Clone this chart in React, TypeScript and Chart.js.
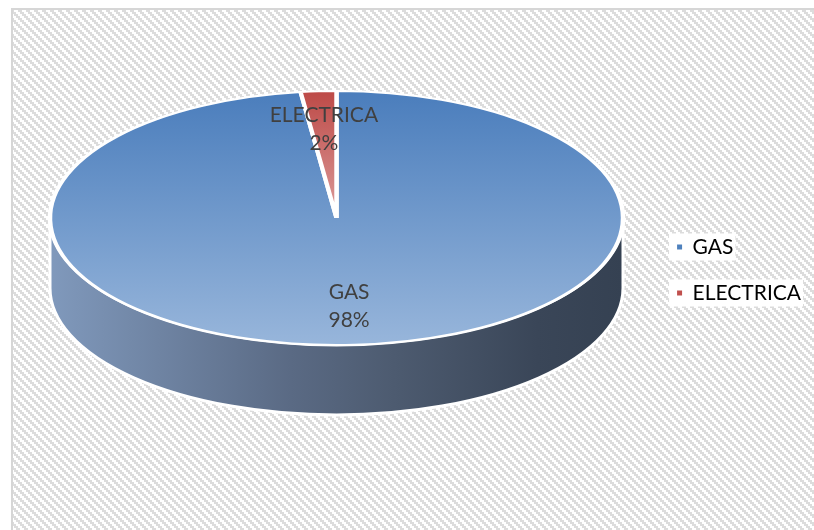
import React, { useEffect, useRef } from 'react';
import { Chart, registerables } from 'chart.js';

Chart.register(...registerables);

// ---- data ----
const categories = ['GAS', 'ELECTRICA'];
const values = [98, 2];
const legendColors = ['#4f81bd', '#c0504d'];

// ---- layout / style constants ----
const W = 814;
const H = 530;
const FRAME_L = 11;
const FRAME_T = 8;
const EX = 336.5; // ellipse center x
const EY = 218; // ellipse center y
const RX = 286.5; // ellipse radius x
const RY = 127; // ellipse radius y
const DEPTH = 70; // side wall height
const LABEL_R = 0.7;
const LABEL_FONT = '21px Lato';
const LINE_GAP = 14;

const topStops: [number, string][][] = [
  [
    [0, '#4a7dbc'],
    [1, '#98b6db'],
  ],
  [
    [0, '#bd4946'],
    [0.5, '#dc9c9b'],
    [1, '#efd0d0'],
  ],
];

const sideStops: [number, string][] = [
  [0, '#8099bc'],
  [0.42, '#5a6a84'],
  [0.6, '#4d5b70'],
  [0.85, '#3a4658'],
  [1, '#354152'],
];

function makeHatch(ctx: CanvasRenderingContext2D) {
  const c = document.createElement('canvas');
  c.width = 8;
  c.height = 8;
  const p = c.getContext('2d')!;
  p.fillStyle = '#ffffff';
  p.fillRect(0, 0, 8, 8);
  p.fillStyle = '#dcdcdc';
  for (let y = 0; y < 8; y++) {
    for (let x = 0; x < 8; x++) {
      const k = (((Math.floor(x / 2) - Math.floor(y / 2)) % 4) + 4) % 4;
      if (k < 2) p.fillRect(x, y, 1, 1);
    }
  }
  return ctx.createPattern(c, 'repeat');
}

const bgPlugin = {
  id: 'bgHatch',
  beforeDraw(chart: any) {
    const { ctx, width, height } = chart;
    ctx.save();
    ctx.fillStyle = '#ffffff';
    ctx.fillRect(0, 0, width, height);
    ctx.fillStyle = makeHatch(ctx);
    ctx.fillRect(FRAME_L, FRAME_T, width - FRAME_L, height - FRAME_T);
    ctx.fillStyle = '#d6d6d6';
    ctx.fillRect(FRAME_L, FRAME_T, 2, height - FRAME_T);
    ctx.fillRect(FRAME_L, FRAME_T, width - FRAME_L, 2);
    // white plates behind legend entries
    const hb = (chart.legend && chart.legend.legendHitBoxes) || [];
    ctx.fillStyle = '#ffffff';
    hb.forEach((b: any) => {
      ctx.fillRect(b.left - 8, b.top - 3, b.width + 10, b.height + 6);
    });
    ctx.restore();
  },
};

const pie3dPlugin = {
  id: 'pie3d',
  beforeDatasetsDraw(chart: any) {
    const { ctx } = chart;
    const meta = chart.getDatasetMeta(0);
    const el = meta.data[0];
    ctx.save();
    // side wall
    const g = ctx.createLinearGradient(EX - RX, 0, EX + RX, 0);
    sideStops.forEach(([o, c]) => g.addColorStop(o, c));
    ctx.beginPath();
    ctx.ellipse(EX, EY, RX, RY, 0, 0, Math.PI);
    ctx.lineTo(EX - RX, EY + DEPTH);
    ctx.ellipse(EX, EY + DEPTH, RX, RY, 0, Math.PI, 0, true);
    ctx.closePath();
    ctx.fillStyle = g;
    ctx.fill();
    ctx.strokeStyle = '#ffffff';
    ctx.lineWidth = 3;
    ctx.stroke();
    // squash the circular pie into the top ellipse
    const R = el.outerRadius;
    ctx.translate(EX, EY);
    ctx.scale(RX / R, RY / R);
    ctx.translate(-el.x, -el.y);
  },
  afterDatasetsDraw(chart: any) {
    const { ctx } = chart;
    ctx.restore();
    const meta = chart.getDatasetMeta(0);
    const total = values.reduce((a, b) => a + b, 0);
    ctx.save();
    ctx.font = LABEL_FONT;
    ctx.fillStyle = '#404040';
    ctx.textAlign = 'center';
    ctx.textBaseline = 'middle';
    meta.data.forEach((arc: any, i: number) => {
      const mid = (arc.startAngle + arc.endAngle) / 2;
      const x = EX + Math.cos(mid) * RX * LABEL_R;
      const y = EY + Math.sin(mid) * RY * LABEL_R;
      const pct = Math.round((values[i] / total) * 100) + '%';
      ctx.fillText(categories[i], x, y - LINE_GAP);
      ctx.fillText(pct, x, y + LINE_GAP);
    });
    ctx.restore();
  },
};

export default function App() {
  const ref = useRef<HTMLCanvasElement | null>(null);

  useEffect(() => {
    if (!ref.current) return;
    const chart = new Chart(ref.current, {
      type: 'pie',
      data: {
        labels: categories,
        datasets: [
          {
            data: values,
            clip: false as any,
            borderColor: '#ffffff',
            borderWidth: 4,
            backgroundColor: (c: any) => {
              const chart = c.chart;
              const a = chart.chartArea;
              if (!a) return legendColors[c.dataIndex];
              const cy = (a.top + a.bottom) / 2;
              const R = Math.min(a.width, a.height) / 2;
              const g = chart.ctx.createLinearGradient(0, cy - R, 0, cy + R);
              topStops[c.dataIndex].forEach(([o, col]) => g.addColorStop(o, col));
              return g;
            },
          },
        ],
      },
      options: {
        responsive: false,
        animation: false,
        devicePixelRatio: 1,
        events: [],
        layout: { padding: { top: 10, right: 3 } },
        plugins: {
          tooltip: { enabled: false },
          legend: {
            position: 'right',
            labels: {
              font: { family: 'Lato', size: 21 },
              color: '#595959',
              boxWidth: 5,
              boxHeight: 5,
              padding: 25,
              generateLabels: () =>
                categories.map((t, i) => ({
                  text: t,
                  fillStyle: legendColors[i],
                  strokeStyle: legendColors[i],
                  lineWidth: 0,
                  hidden: false,
                  index: i,
                  datasetIndex: 0,
                })),
            },
          },
        },
      },
      plugins: [bgPlugin, pie3dPlugin],
    });
    return () => chart.destroy();
  }, []);

  return (
    <div style={{ position: 'fixed', left: 0, top: 0, width: W, height: H, overflow: 'hidden' }}>
      <canvas ref={ref} width={W} height={H} style={{ display: 'block', width: W, height: H }} />
    </div>
  );
}
